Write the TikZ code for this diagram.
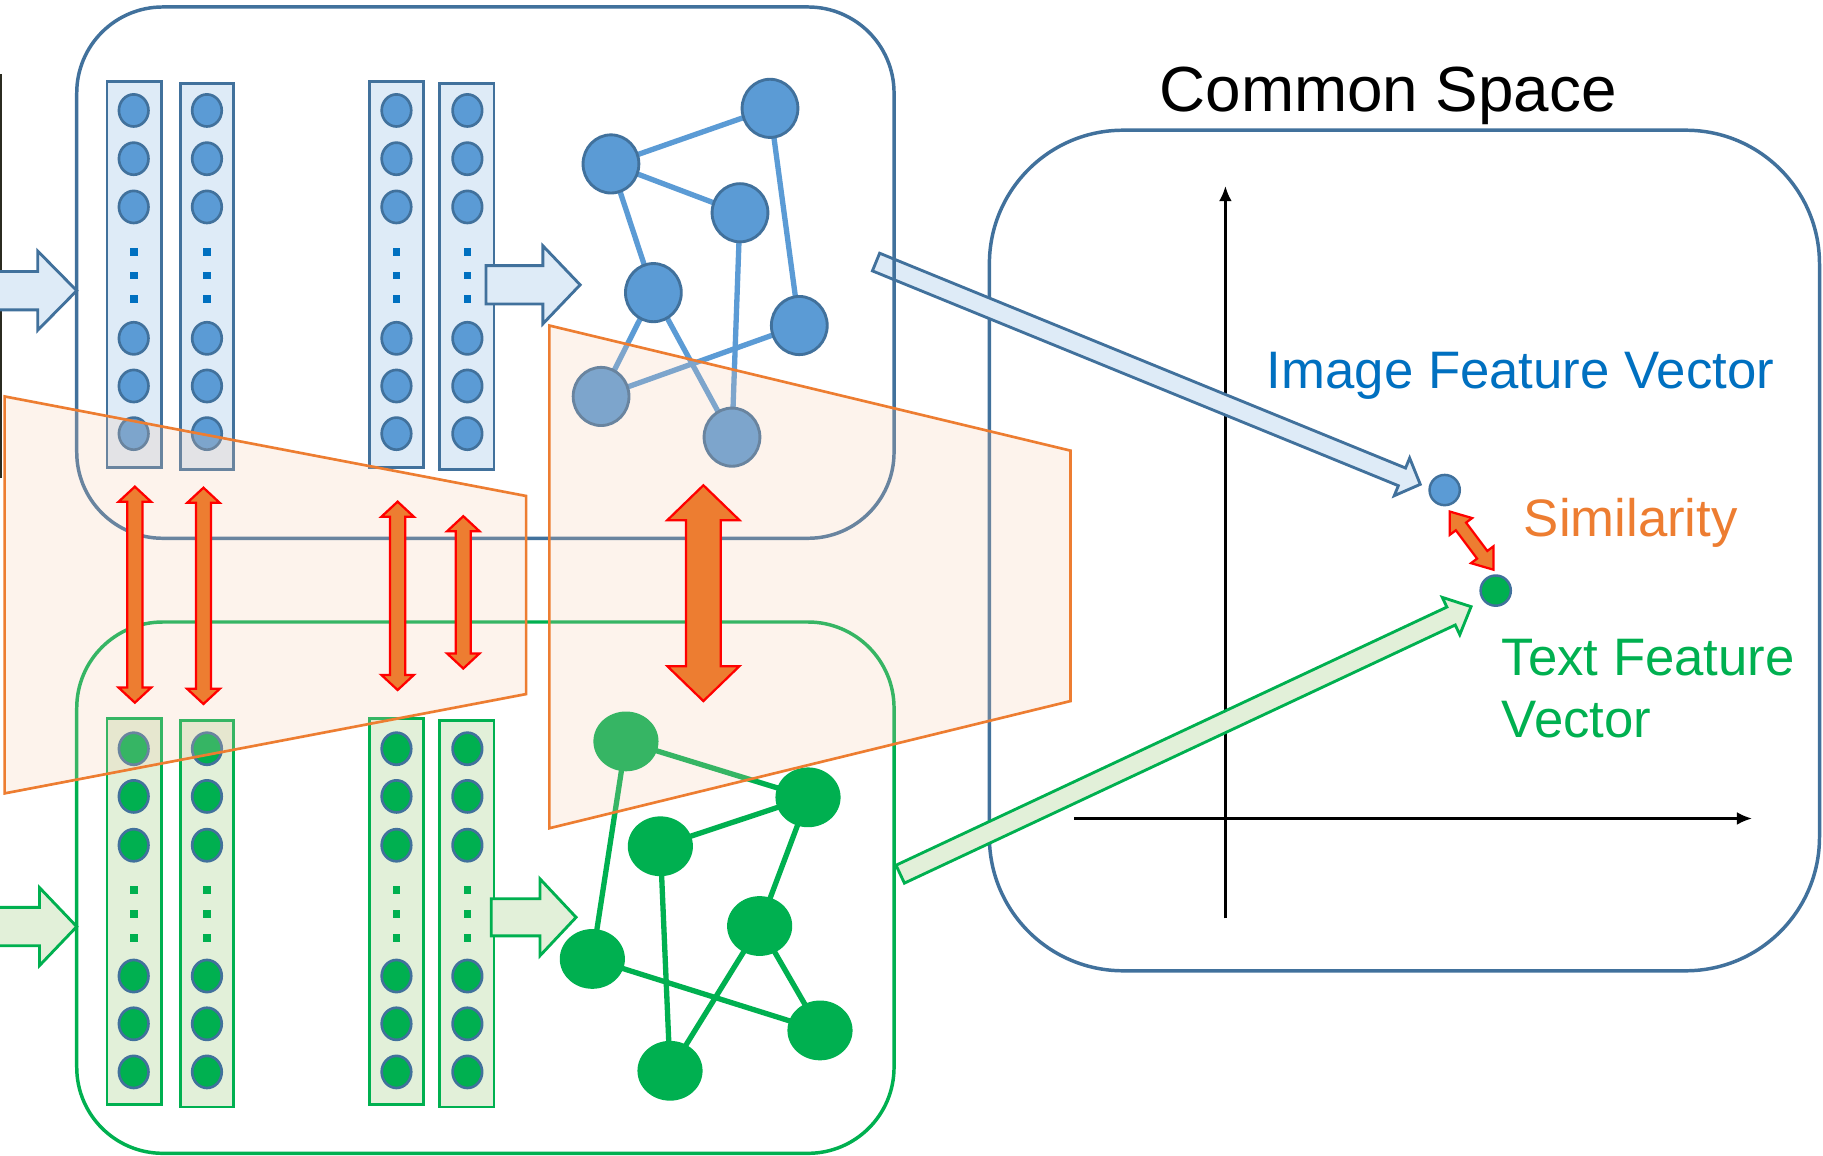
\documentclass[tikz,border=0pt]{standalone}
\usepackage{fontspec}
\setmainfont{Liberation Sans}
\usetikzlibrary{calc,shapes.geometric,arrows.meta}
\pgfdeclarelayer{bg}
\pgfdeclarelayer{edges}
\pgfsetlayers{bg,edges,main}

\definecolor{encline}{HTML}{41719C}
\definecolor{encfill}{HTML}{5B9BD5}
\definecolor{enclight}{HTML}{DEEBF7}
\definecolor{dotblue}{HTML}{0070C0}
\definecolor{txtgreen}{HTML}{00B050}
\definecolor{greenlight}{HTML}{E2F0D9}
\definecolor{accorange}{HTML}{ED7D31}
\definecolor{peach}{HTML}{F8CBAD}
\definecolor{pureRed}{HTML}{FF0000}
\definecolor{stripdark}{HTML}{2B2B20}

% block arrow from #1 (tail) to #2 (tip): body half width #3, head half width #4, head length #5
\newcommand\blockarrow[6]{%
  \coordinate (bahead) at ($(#2)!#5!(#1)$);
  \path[#6] ($(#1)!#3!90:(#2)$) -- ($(bahead)!#3!90:(#2)$) -- ($(bahead)!#4!90:(#2)$)
    -- (#2) -- ($(bahead)!#4!-90:(#2)$) -- ($(bahead)!#3!-90:(#2)$)
    -- ($(#1)!#3!-90:(#2)$) -- cycle;}
% double-headed block arrow between #1 and #2
\newcommand\dblockarrow[6]{%
  \coordinate (dahA) at ($(#1)!#5!(#2)$);
  \coordinate (dahB) at ($(#2)!#5!(#1)$);
  \path[#6] (#1) -- ($(dahA)!#4!90:(#2)$) -- ($(dahA)!#3!90:(#2)$)
    -- ($(dahB)!#3!90:(#2)$) -- ($(dahB)!#4!90:(#2)$) -- (#2)
    -- ($(dahB)!#4!-90:(#2)$) -- ($(dahB)!#3!-90:(#2)$)
    -- ($(dahA)!#3!-90:(#2)$) -- ($(dahA)!#4!-90:(#2)$) -- cycle;}

\tikzset{
  encbox/.style={line width=0.85pt, rounded corners=0.74cm},
  colrect/.style={rectangle, draw, line width=0.65pt, inner sep=0pt, minimum height=3.32cm},
  neuron/.style={ellipse, draw=encline, line width=0.65pt, inner sep=0pt,
    minimum width=0.254cm, minimum height=0.276cm},
  bneuron/.style={neuron, fill=encfill},
  gneuron/.style={neuron, fill=txtgreen},
  vdot/.style={rectangle, inner sep=0pt, minimum size=0.066cm},
  bnode/.style={ellipse, draw=encline, fill=encfill, line width=0.7pt, inner sep=0pt,
    minimum width=0.48cm, minimum height=0.50cm},
  gnode/.style={ellipse, fill=txtgreen, inner sep=0pt, minimum width=0.56cm, minimum height=0.514cm},
  bedge/.style={draw=encfill, line width=1.3pt},
  gedge/.style={draw=txtgreen, line width=1.3pt},
  veil/.style={fill=peach, fill opacity=0.22, draw=accorange, line width=0.65pt},
  simarrow/.style={fill=accorange, draw=pureRed, line width=0.55pt, line join=miter},
  bluearrow/.style={fill=enclight, draw=encline, line width=0.7pt, line join=miter},
  greenarrow/.style={fill=greenlight, draw=txtgreen, line width=0.7pt, line join=miter},
  axisline/.style={line width=0.6pt, -{Latex[length=1.3mm,width=1.1mm]}},
  lbltext/.style={inner sep=0pt, anchor=base west, font=\fontsize{12.9}{15}\selectfont},
}

\begin{document}
\begin{tikzpicture}[x=0.01cm, y=-0.01cm]
\useasboundingbox (0,0) rectangle (1568,994);
\begin{pgfonlayer}{bg}
  \fill[white] (0,0) rectangle (1568,994);
\end{pgfonlayer}

% thin photo edge at the far left
\fill[stripdark] (0,64) rectangle (1.6,411);

% common space panel and its axes
\draw[encline, line width=0.85pt, rounded corners=1.15cm] (851,112) rectangle (1565,835);
\coordinate (yfoot) at (1054,790);
\coordinate (ytop) at (1054,160);
\coordinate (xfoot) at (924,704);
\coordinate (xend) at (1507,704);
\draw[axisline] (yfoot) -- (ytop);
\draw[axisline] (xfoot) -- (xend);

% projections into the common space
\coordinate (imgout) at (753.5,225.4);
\coordinate (imgin) at (1221.6,416.6);
\coordinate (txtout) at (774.3,751.9);
\coordinate (txtin) at (1265.3,521.8);
\blockarrow{imgout}{imgin}{0.82mm}{1.75mm}{1.7mm}{bluearrow}
\blockarrow{txtout}{txtin}{0.85mm}{1.77mm}{1.9mm}{greenarrow}

% encoder panels
\draw[encbox, encline] (66,6) rectangle (769,463);
\draw[encbox, txtgreen] (66,535) rectangle (769,992);

% inputs
\coordinate (imgsrc) at (-40,250);
\coordinate (imgenc) at (66,250);
\coordinate (txtsrc) at (-40,797);
\coordinate (txtenc) at (66,797);
\blockarrow{imgsrc}{imgenc}{1.65mm}{3.4mm}{3.35mm}{bluearrow}
\blockarrow{txtsrc}{txtenc}{1.65mm}{3.35mm}{3.2mm}{greenarrow}

% layer columns
\foreach \cx/\cy/\w/\k in {115.5/236/0.47/1, 178/238/0.46/2, 341/236/0.46/3, 401.5/238/0.47/4}
  \node[colrect, draw=encline, fill=enclight, minimum width=\w cm] (tcol\k) at (\cx,\cy) {};
\foreach \cx/\cy/\w/\k in {115.5/784/0.47/1, 178/786/0.46/2, 341/784/0.46/3, 401.5/786/0.47/4}
  \node[colrect, draw=txtgreen, fill=greenlight, minimum width=\w cm] (bcol\k) at (\cx,\cy) {};

\foreach \cx/\k in {115/1, 178/2, 341/3, 402/4} {
  \foreach \cy/\j in {95/1, 136.5/2, 178/3, 291/4, 332/5, 373/6}
    \node[bneuron] (tn\k-\j) at (\cx,\cy) {};
  \foreach \cy/\j in {217/1, 237/2, 257/3}
    \node[vdot, fill=dotblue] (td\k-\j) at (\cx,\cy) {};
  \foreach \cy/\j in {644/1, 685/2, 727/3, 839.5/4, 880.6/5, 922/6}
    \node[gneuron] (bn\k-\j) at (\cx,\cy) {};
  \foreach \cy/\j in {765.5/1, 786/2, 807/3}
    \node[vdot, fill=txtgreen] (bd\k-\j) at (\cx,\cy) {};
}

% columns feed the graphs
\coordinate (imgcolout) at (418,245);
\coordinate (imggraphin) at (499,245);
\coordinate (txtcolout) at (422.5,789);
\coordinate (txtgraphin) at (495.5,789);
\blockarrow{imgcolout}{imggraphin}{1.65mm}{3.35mm}{3.2mm}{bluearrow}
\blockarrow{txtcolout}{txtgraphin}{1.6mm}{3.3mm}{3.1mm}{greenarrow}

% image graph
\node[bnode] (n1) at (662.3,93.2) {};
\node[bnode] (n2) at (525.5,141) {};
\node[bnode] (n3) at (636.5,183) {};
\node[bnode] (n4) at (562,251.7) {};
\node[bnode] (n5) at (687.5,280) {};
\node[bnode] (n6) at (517,341) {};
\node[bnode] (n7) at (629.6,376) {};
% text graph
\node[gnode] (g1) at (538.4,637.7) {};
\node[gnode] (g2) at (695,685.8) {};
\node[gnode] (g3) at (568,727.9) {};
\node[gnode] (g4) at (653.4,796.5) {};
\node[gnode] (g5) at (509.5,824.8) {};
\node[gnode] (g6) at (705.3,886.3) {};
\node[gnode] (g7) at (576.3,921) {};

\begin{pgfonlayer}{edges}
  \foreach \a/\b in {n1/n2, n1/n5, n2/n3, n2/n4, n3/n7, n4/n6, n4/n7, n5/n6}
    \draw[bedge] (\a.center) -- (\b.center);
  \foreach \a/\b in {g1/g2, g1/g5, g2/g3, g2/g4, g3/g7, g4/g7, g4/g6, g5/g6}
    \draw[gedge] (\a.center) -- (\b.center);
\end{pgfonlayer}

% alignment regions
\path[veil] (4,341) -- (452.5,426.6) -- (452.5,597) -- (4,682.4) -- cycle;
\path[veil] (472.5,280) -- (920.8,387.6) -- (920.8,603) -- (472.5,712.4) -- cycle;

% layer-wise and graph-level alignment
\foreach \x/\ya/\yb/\k in {116/418.6/604.4/1, 175/419.5/605.5/2, 342/431.5/593.5/3, 398.5/444/575/4} {
  \coordinate (au\k) at (\x,\ya);
  \coordinate (ad\k) at (\x,\yb);
  \dblockarrow{au\k}{ad\k}{0.65mm}{1.4mm}{1.3mm}{simarrow}
}
\coordinate (gup) at (605,417.4);
\coordinate (gdown) at (605,603);
\dblockarrow{gup}{gdown}{1.5mm}{3.1mm}{3.0mm}{simarrow}

% embedded vectors
\node[circle, draw=encline, fill=encfill, line width=0.6pt, inner sep=0pt, minimum size=0.26cm] (pimg) at (1242.6,421.5) {};
\node[circle, draw=encline, fill=txtgreen, line width=0.6pt, inner sep=0pt, minimum size=0.26cm] (ptxt) at (1286.5,508) {};
\coordinate (simA) at (1247,440);
\coordinate (simB) at (1284.5,490);
\dblockarrow{simA}{simB}{0.55mm}{1.2mm}{1.6mm}{simarrow}

% labels
\node[inner sep=0pt, anchor=base, font=\fontsize{15.6}{18}\selectfont] (cstitle) at (1194,96) {Common Space};
\node[lbltext, text=dotblue] (ifv) at (1089,334) {Image Feature Vector};
\node[lbltext, text=accorange] (simtext) at (1310,461.6) {Similarity};
\node[lbltext, text=txtgreen] (tfv1) at (1291,580.6) {Text Feature};
\node[lbltext, text=txtgreen] (tfv2) at (1291,634.5) {Vector};
\end{tikzpicture}
\end{document}
